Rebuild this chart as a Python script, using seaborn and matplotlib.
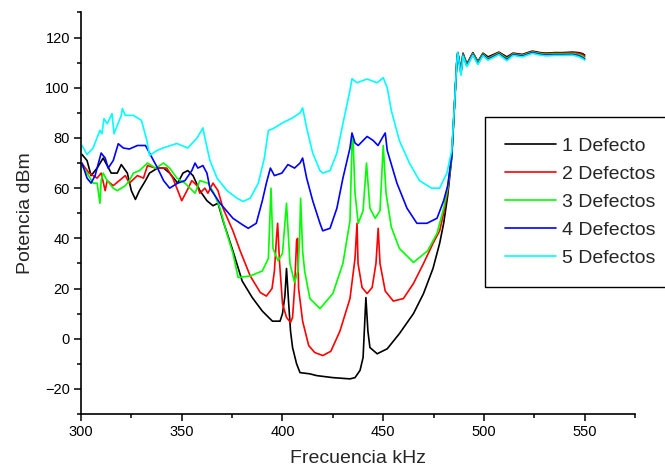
import pandas as pd
import seaborn as sns
import matplotlib.pyplot as plt
from matplotlib.ticker import MultipleLocator

# ── values (kHz, dBm) ──
plateau_x = [488.6, 489.6, 491.5, 494.5, 497, 499.5, 502, 507.4, 511.4, 514.4,
             519, 524, 528, 531, 535, 539, 544, 547, 549, 550]

black_x = [300.5, 303, 305, 308, 311, 313, 315, 318, 320, 323, 325, 327, 329, 332,
           334, 338, 341, 344, 348, 350.6, 353, 355.6, 359, 362.5, 365.5, 368, 370.5,
           375.4, 380, 385, 390, 395, 398.8, 400, 401.2, 402, 403, 404, 405, 407,
           408.7, 413.6, 417, 425, 433.5, 436, 438.5, 440, 441.4, 442.4, 443.4, 447,
           452, 458, 465, 470, 474.7, 478, 480, 482, 484, 485.5, 486.5, 487] + plateau_x
black_y = [73.4, 71, 65, 68, 72, 69, 66, 66, 69.4, 66, 59, 55.5, 59, 63,
           66, 68, 68, 66, 62, 66, 67, 65, 59, 55, 53, 54, 47,
           35, 23, 16.4, 11, 7, 7, 10, 17, 28, 15, 3, -3.5, -10,
           -13.5, -14, -14.7, -15.5, -16, -15.5, -12.6, -7.5, 16.4, 3, -3.5, -6,
           -4, 2, 10, 18, 28, 38, 46, 57, 72, 95, 110, 114,
           107, 113.8, 109.5, 114, 110.5, 113.8, 112.3, 114.2, 112.3, 113.8,
           113.3, 114.6, 114, 113.8, 114, 114, 114.2, 114, 113.6, 113]

red_x = [300.5, 304, 308, 310, 312, 313, 316, 319, 322, 324, 328, 331, 333, 337, 340,
         342.6, 345.6, 350, 352.6, 355, 357.6, 359, 361.5, 363, 365.5, 368, 370.5, 375.4,
         379, 384, 389, 392, 394.8, 396, 397, 397.6, 398.5, 400, 402, 404, 405, 406,
         407, 407.5, 408, 410, 413, 416, 420, 424, 428.5, 433.5, 436, 437, 437.5,
         439.5, 442, 444.5, 446.4, 447.5, 448.4, 451, 455, 460, 465, 470, 474.7, 478,
         480, 482, 484, 485.5, 486.5, 487] + plateau_x
red_y = [69.8, 66, 64, 66, 59, 63, 61, 63, 65, 62, 65, 64, 69, 68, 68,
         68, 64, 55, 59, 63, 61, 58, 60, 58, 62, 59, 52, 43,
         35, 25, 18.4, 17, 20, 27, 40, 46, 31, 14, 8.5, 6.5, 8.5, 20,
         39, 40, 20, 7, -2.7, -5.5, -6.7, -5, 3, 16, 32, 46, 30,
         20.4, 18, 20.4, 30, 44, 30, 19, 15, 16, 22, 30, 38, 43,
         50, 59, 73, 95, 110, 114,
         106.5, 113.5, 109.2, 113.8, 110.2, 113.5, 111.8, 114, 111.8, 113.6,
         113.1, 114.4, 113.8, 113.6, 113.8, 113.8, 114, 113.7, 113.2, 112.4]

green_x = [300.5, 303, 306, 308, 309.4, 310, 311, 313, 316, 318, 322, 324, 326, 329,
           333, 337, 341, 344, 347.6, 351.6, 356.6, 359, 363, 366, 369, 372, 375.4,
           378, 384, 390, 393, 394.3, 395.3, 397.8, 400, 401, 402, 403.7, 406, 407.7,
           408.5, 409, 410, 411, 413.6, 418.6, 425, 430, 433.5, 434.5, 435, 436, 437.6,
           440, 441.7, 443.4, 446, 448.4, 450, 451.4, 454, 458, 465, 472, 476.7, 480,
           482, 484, 485.5, 486.5, 487] + plateau_x
green_y = [69, 66, 62, 62, 54, 63, 66, 63, 60, 59, 61, 63, 66, 67,
           70, 68, 70, 68, 64, 62, 58, 63, 62, 58, 52, 43, 34,
           24.4, 25, 27, 32, 60, 36, 31, 34, 44, 54, 30, 22.4, 27,
           40, 56, 35, 27, 16, 12, 18, 30, 47, 78, 80, 58, 46,
           51, 70, 52, 48, 51, 77, 58, 44.5, 36, 30.4, 35, 42, 52,
           60, 73, 95, 110, 114,
           106, 113.3, 109, 113.6, 110, 113.4, 111.6, 113.8, 111.6, 113.4,
           112.9, 114.2, 113.6, 113.3, 113.5, 113.5, 113.6, 113.2, 112.6, 111.8]

blue_x = [300.5, 303, 305, 307, 310, 312, 313.5, 316, 318.5, 321, 324, 328, 332, 334,
          338, 341, 344, 348, 351.6, 355, 356.6, 358, 360.5, 362.5, 364, 369, 375.4,
          380, 383, 387, 390, 392, 394, 396, 399.7, 402.7, 406, 408.7, 410, 412, 415,
          418.6, 420, 423.6, 427, 430, 433.5, 434.5, 436, 437.6, 442, 445, 447.4, 449.5,
          451, 452, 456.8, 461.8, 466.7, 471.7, 476.7, 480, 482, 484, 485.5, 486.5,
          487] + plateau_x
blue_y = [70, 64, 62, 65, 74, 72, 68, 71, 77.7, 76, 75.6, 77, 77, 74,
          68, 63, 60, 62, 63, 67, 70, 68, 69, 66, 60, 54, 48,
          45.5, 44, 46, 55, 62, 68, 65, 66, 69.4, 68, 70, 72, 64, 55,
          46, 43, 44, 52, 64, 76, 82, 78, 77, 80.6, 79, 77, 80,
          82, 75, 62, 52, 46, 46, 48, 55, 61, 73, 95, 110,
          114,
          105.5, 113, 108.7, 113.3, 109.6, 113.1, 111.3, 113.5, 111.2, 113.2,
          112.6, 114, 113.3, 113, 113.2, 113.2, 113.3, 112.8, 112, 111.4]

cyan_x = [300.5, 303, 306, 308.4, 309.4, 310.4, 311.4, 313, 314.4, 315.4, 316.4, 318,
          320, 320.5, 322, 326, 330, 332.7, 334, 337.7, 340.7, 347.6, 353, 357.6, 360.5,
          361.5, 364, 367.5, 372.5, 377.4, 380.4, 384, 388, 391, 393, 395.3, 400, 405,
          408.7, 410, 412, 415, 418.6, 420, 423.6, 427, 430, 433.5, 434.5, 437, 442,
          447, 450, 452, 454, 458, 463, 468, 474, 478, 481.6, 484, 485.5, 486.5,
          487] + plateau_x
cyan_y = [77, 73.4, 76, 81, 83, 81.7, 87.7, 85.7, 88, 89.7, 81.7, 85,
          89, 91.7, 89, 89, 87, 79, 73, 75, 76, 77.8, 76, 80, 84,
          80, 71, 64, 59, 56, 54.7, 56, 62, 72, 83, 83.7, 86, 88,
          90, 92, 84, 74, 67, 66, 67, 74, 85.7, 99, 103.6, 102, 103.5,
          102, 104, 100, 91, 79, 70, 63, 60, 60, 66, 75, 95, 110,
          114,
          105, 112.7, 108.4, 113, 109.3, 112.8, 111, 113.2, 110.8, 112.9,
          112.3, 113.7, 113, 112.7, 112.9, 112.9, 113, 112.4, 111.6, 111]

labels = ["1 Defecto", "2 Defectos", "3 Defectos", "4 Defectos", "5 Defectos"]
colors = ["#000000", "#ff0000", "#00ff00", "#0000ff", "#00ffff"]

series = [(black_x, black_y), (red_x, red_y), (green_x, green_y),
          (blue_x, blue_y), (cyan_x, cyan_y)]
frames = []
for lab, (xs, ys) in zip(labels, series):
    frames.append(pd.DataFrame({"freq": xs, "pot": ys, "serie": lab}))
df = pd.concat(frames, ignore_index=True)

sns.set_style("ticks")
plt.rcParams['font.family'] = ['Liberation Sans', 'DejaVu Sans']

fig = plt.figure(figsize=(6.65, 4.75), dpi=100)
ax = fig.add_axes([0.1218, 0.1284, 0.8332, 0.8453])

sns.lineplot(data=df, x="freq", y="pot", hue="serie", palette=colors,
             estimator=None, sort=False, linewidth=1.2, ax=ax)

ax.set_xlim(300, 575)
ax.set_ylim(-30, 130)
ax.xaxis.set_major_locator(MultipleLocator(50))
ax.xaxis.set_minor_locator(MultipleLocator(25))
ax.yaxis.set_major_locator(MultipleLocator(20))
ax.yaxis.set_minor_locator(MultipleLocator(10))
ax.set_xticks([300, 350, 400, 450, 500, 550])
ax.set_xticklabels(["300", "350", "400", "450", "500", "550"])
ax.tick_params(which='major', length=5, width=1.1, labelsize=10.5, color='black',
               labelcolor='black', pad=3)
ax.tick_params(which='minor', length=3, width=1.1, color='black')
for s in ["top", "right"]:
    ax.spines[s].set_visible(False)
for s in ["left", "bottom"]:
    ax.spines[s].set_linewidth(1.2)
    ax.spines[s].set_color('black')

ax.set_xlabel("Frecuencia kHz", fontsize=14, labelpad=8)
ax.set_ylabel("Potencia dBm", fontsize=14, labelpad=8)

leg = ax.legend(loc='upper left', bbox_to_anchor=(0.729, 0.754),
                bbox_transform=fig.transFigure, borderaxespad=0, fontsize=14,
                handlelength=2.6, handletextpad=0.3, labelspacing=0.53,
                borderpad=1.05, fancybox=False, framealpha=1, title=None)
leg.get_frame().set_edgecolor('black')
leg.get_frame().set_linewidth(1.0)
for line in leg.get_lines():
    line.set_linewidth(1.2)

fig.savefig("out.png", dpi=100)
